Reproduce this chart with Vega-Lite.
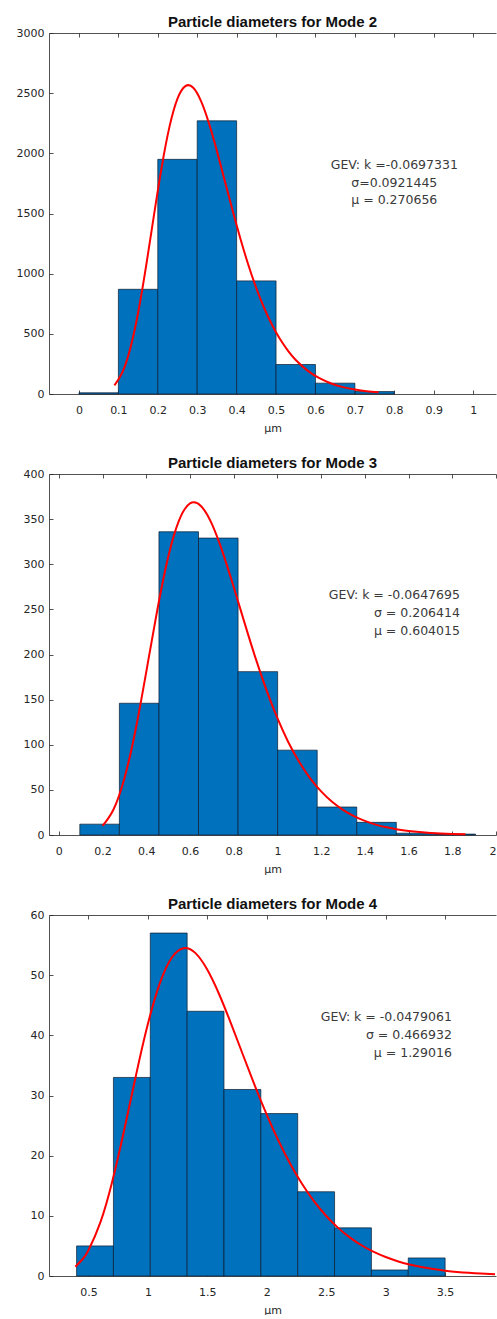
{
  "$schema": "https://vega.github.io/schema/vega-lite/v6.json",
  "padding": {"left": 16, "top": 15, "right": 0, "bottom": 0},
  "spacing": 80,
  "bounds": "flush",
  "config": {
    "view": {"stroke": null},
    "font": "Liberation Sans",
    "title": {"fontSize": 15, "font": "Liberation Sans", "fontWeight": "bold", "color": "#111111", "offset": -3},
    "axis": {"grid": false, "domainColor": "#262626", "domainWidth": 0.8, "tickColor": "#262626", "tickWidth": 0.8, "tickSize": -4, "labelColor": "#262626", "labelFont": "DejaVu Sans", "labelFontSize": 11, "labelOverlap": false, "titleFont": "DejaVu Sans", "titleFontSize": 11, "titleFontWeight": "normal", "titleColor": "#262626"},
    "axisBottom": {"labelPadding": 14, "titlePadding": 7},
    "axisLeft": {"labelPadding": 9}
  },
  "datasets": {
    "bars2": [
      {"x0": 0, "x1": 0.1, "count": 10}, {"x0": 0.1, "x1": 0.2, "count": 870}, {"x0": 0.2, "x1": 0.3, "count": 1950}, {"x0": 0.3, "x1": 0.4, "count": 2270},
      {"x0": 0.4, "x1": 0.5, "count": 940}, {"x0": 0.5, "x1": 0.6, "count": 245}, {"x0": 0.6, "x1": 0.7, "count": 90}, {"x0": 0.7, "x1": 0.8, "count": 20}
    ],
    "fit2": [
      {"x": 0.09, "y": 72}, {"x": 0.11, "y": 180}, {"x": 0.13, "y": 377}, {"x": 0.15, "y": 674}, {"x": 0.17, "y": 1056}, {"x": 0.19, "y": 1480},
      {"x": 0.21, "y": 1888}, {"x": 0.23, "y": 2226}, {"x": 0.25, "y": 2455}, {"x": 0.27, "y": 2559}, {"x": 0.29, "y": 2545}, {"x": 0.31, "y": 2432},
      {"x": 0.33, "y": 2248}, {"x": 0.35, "y": 2019}, {"x": 0.37, "y": 1771}, {"x": 0.39, "y": 1522}, {"x": 0.41, "y": 1286}, {"x": 0.43, "y": 1070},
      {"x": 0.45, "y": 879}, {"x": 0.47, "y": 714}, {"x": 0.49, "y": 574}, {"x": 0.51, "y": 457}, {"x": 0.53, "y": 361}, {"x": 0.55, "y": 283},
      {"x": 0.58, "y": 194}, {"x": 0.61, "y": 131}, {"x": 0.64, "y": 87}, {"x": 0.67, "y": 57}, {"x": 0.70, "y": 37}, {"x": 0.73, "y": 23}, {"x": 0.76, "y": 14.5}
    ],
    "ann2": [
      {"x": 0.80, "y": 1903, "label": "GEV: k =-0.0697331"},
      {"x": 0.80, "y": 1753, "label": "σ=0.0921445"},
      {"x": 0.80, "y": 1612, "label": "μ = 0.270656"}
    ],
    "bars3": [
      {"x0": 0.096, "x1": 0.277, "count": 12}, {"x0": 0.277, "x1": 0.458, "count": 146}, {"x0": 0.458, "x1": 0.639, "count": 336}, {"x0": 0.639, "x1": 0.82, "count": 329},
      {"x0": 0.82, "x1": 1.001, "count": 181}, {"x0": 1.001, "x1": 1.182, "count": 94}, {"x0": 1.182, "x1": 1.363, "count": 31}, {"x0": 1.363, "x1": 1.544, "count": 14},
      {"x0": 1.544, "x1": 1.725, "count": 2}, {"x0": 1.725, "x1": 1.906, "count": 1}
    ],
    "fit3": [
      {"x": 0.20, "y": 10.1}, {"x": 0.25, "y": 28.3}, {"x": 0.30, "y": 62.9}, {"x": 0.35, "y": 115.3}, {"x": 0.40, "y": 180.8}, {"x": 0.45, "y": 248.8},
      {"x": 0.50, "y": 307.8}, {"x": 0.55, "y": 348.7}, {"x": 0.60, "y": 367.4}, {"x": 0.65, "y": 364.6}, {"x": 0.70, "y": 344.7}, {"x": 0.75, "y": 312.9},
      {"x": 0.80, "y": 274.8}, {"x": 0.85, "y": 234.8}, {"x": 0.90, "y": 196.0}, {"x": 0.95, "y": 160.6}, {"x": 1.00, "y": 129.4}, {"x": 1.05, "y": 102.8},
      {"x": 1.10, "y": 80.8}, {"x": 1.15, "y": 62.8}, {"x": 1.20, "y": 48.3}, {"x": 1.25, "y": 36.8}, {"x": 1.30, "y": 27.9}, {"x": 1.35, "y": 20.9},
      {"x": 1.40, "y": 15.6}, {"x": 1.45, "y": 11.5}, {"x": 1.50, "y": 8.5}, {"x": 1.55, "y": 6.2}, {"x": 1.60, "y": 4.5}, {"x": 1.70, "y": 2.3},
      {"x": 1.80, "y": 1.1}, {"x": 1.86, "y": 0.7}
    ],
    "ann3": [
      {"x": 1.835, "y": 266, "label": "GEV: k = -0.0647695"},
      {"x": 1.835, "y": 246, "label": "σ =  0.206414"},
      {"x": 1.835, "y": 226.5, "label": "μ =   0.604015"}
    ],
    "bars4": [
      {"x0": 0.40, "x1": 0.71, "count": 5}, {"x0": 0.71, "x1": 1.02, "count": 33}, {"x0": 1.02, "x1": 1.33, "count": 57}, {"x0": 1.33, "x1": 1.64, "count": 44},
      {"x0": 1.64, "x1": 1.95, "count": 31}, {"x0": 1.95, "x1": 2.26, "count": 27}, {"x0": 2.26, "x1": 2.57, "count": 14}, {"x0": 2.57, "x1": 2.88, "count": 8},
      {"x0": 2.88, "x1": 3.19, "count": 1}, {"x0": 3.19, "x1": 3.50, "count": 3}
    ],
    "fit4": [
      {"x": 0.39, "y": 1.54}, {"x": 0.45, "y": 2.78}, {"x": 0.50, "y": 4.29}, {"x": 0.60, "y": 8.90}, {"x": 0.70, "y": 15.71}, {"x": 0.80, "y": 24.23},
      {"x": 0.90, "y": 33.39}, {"x": 1.00, "y": 41.91}, {"x": 1.10, "y": 48.64}, {"x": 1.20, "y": 52.90}, {"x": 1.30, "y": 54.49}, {"x": 1.40, "y": 53.66},
      {"x": 1.50, "y": 50.89}, {"x": 1.60, "y": 46.79}, {"x": 1.70, "y": 41.91}, {"x": 1.80, "y": 36.73}, {"x": 1.90, "y": 31.61}, {"x": 2.00, "y": 26.79},
      {"x": 2.10, "y": 22.41}, {"x": 2.20, "y": 18.54}, {"x": 2.30, "y": 15.20}, {"x": 2.40, "y": 12.36}, {"x": 2.50, "y": 9.98}, {"x": 2.60, "y": 8.00},
      {"x": 2.70, "y": 6.38}, {"x": 2.80, "y": 5.07}, {"x": 2.90, "y": 4.00}, {"x": 3.00, "y": 3.15}, {"x": 3.10, "y": 2.46}, {"x": 3.20, "y": 1.92},
      {"x": 3.30, "y": 1.49}, {"x": 3.40, "y": 1.15}, {"x": 3.50, "y": 0.89}, {"x": 3.60, "y": 0.68}, {"x": 3.70, "y": 0.52}, {"x": 3.80, "y": 0.40},
      {"x": 3.92, "y": 0.29}
    ],
    "ann4": [
      {"x": 3.557, "y": 43.05, "label": "GEV:  k = -0.0479061"},
      {"x": 3.557, "y": 40, "label": "σ =  0.466932"},
      {"x": 3.557, "y": 37, "label": "μ =   1.29016"}
    ]
  },
  "vconcat": [
    {
      "width": 447, "height": 361,
      "title": "Particle diameters for Mode 2",
      "layer": [
        {
          "data": {"name": "bars2"},
          "mark": {"type": "rect", "fill": "#0072BD", "stroke": "#0d1b2e", "strokeWidth": 0.7},
          "encoding": {
            "x": {"field": "x0", "type": "quantitative", "scale": {"domain": [-0.076, 1.058], "nice": false, "zero": false},
                  "axis": {"values": [0, 0.1, 0.2, 0.3, 0.4, 0.5, 0.6, 0.7, 0.8, 0.9, 1], "format": "~g", "title": "μm"}},
            "x2": {"field": "x1"},
            "y": {"field": "count", "type": "quantitative", "scale": {"domain": [0, 3000], "nice": false},
                  "axis": {"values": [0, 500, 1000, 1500, 2000, 2500, 3000], "format": "d", "title": null}},
            "y2": {"datum": 0}
          }
        },
        {
          "data": {"name": "fit2"},
          "mark": {"type": "line", "color": "#FF0000", "strokeWidth": 2, "interpolate": "natural"},
          "encoding": {
            "x": {"field": "x", "type": "quantitative", "axis": {"orient": "top", "values": [0, 0.1, 0.2, 0.3, 0.4, 0.5, 0.6, 0.7, 0.8, 0.9, 1], "labels": false, "title": null}},
            "y": {"field": "y", "type": "quantitative", "axis": null}
          }
        },
        {
          "data": {"name": "ann2"},
          "mark": {"type": "text", "align": "center", "baseline": "middle", "font": "DejaVu Sans", "fontSize": 12.5, "color": "#3a3a3a"},
          "encoding": {
            "x": {"field": "x", "type": "quantitative", "axis": null},
            "y": {"field": "y", "type": "quantitative", "axis": null},
            "text": {"field": "label"}
          }
        }
      ],
      "resolve": {"axis": {"x": "independent", "y": "independent"}}
    },
    {
      "width": 447, "height": 361,
      "title": "Particle diameters for Mode 3",
      "layer": [
        {
          "data": {"name": "bars3"},
          "mark": {"type": "rect", "fill": "#0072BD", "stroke": "#0d1b2e", "strokeWidth": 0.7},
          "encoding": {
            "x": {"field": "x0", "type": "quantitative", "scale": {"domain": [-0.045, 2.0], "nice": false, "zero": false},
                  "axis": {"values": [0, 0.2, 0.4, 0.6, 0.8, 1, 1.2, 1.4, 1.6, 1.8, 2], "format": "~g", "title": "μm"}},
            "x2": {"field": "x1"},
            "y": {"field": "count", "type": "quantitative", "scale": {"domain": [0, 400], "nice": false},
                  "axis": {"values": [0, 50, 100, 150, 200, 250, 300, 350, 400], "format": "d", "title": null}},
            "y2": {"datum": 0}
          }
        },
        {
          "data": {"name": "fit3"},
          "mark": {"type": "line", "color": "#FF0000", "strokeWidth": 2, "interpolate": "natural"},
          "encoding": {
            "x": {"field": "x", "type": "quantitative", "axis": {"orient": "top", "values": [0, 0.2, 0.4, 0.6, 0.8, 1, 1.2, 1.4, 1.6, 1.8, 2], "labels": false, "title": null}},
            "y": {"field": "y", "type": "quantitative", "axis": null}
          }
        },
        {
          "data": {"name": "ann3"},
          "mark": {"type": "text", "align": "right", "baseline": "middle", "font": "DejaVu Sans", "fontSize": 12.5, "color": "#3a3a3a"},
          "encoding": {
            "x": {"field": "x", "type": "quantitative", "axis": null},
            "y": {"field": "y", "type": "quantitative", "axis": null},
            "text": {"field": "label"}
          }
        }
      ],
      "resolve": {"axis": {"x": "independent", "y": "independent"}}
    },
    {
      "width": 447, "height": 361,
      "title": "Particle diameters for Mode 4",
      "layer": [
        {
          "data": {"name": "bars4"},
          "mark": {"type": "rect", "fill": "#0072BD", "stroke": "#0d1b2e", "strokeWidth": 0.7},
          "encoding": {
            "x": {"field": "x0", "type": "quantitative", "scale": {"domain": [0.168, 3.928], "nice": false, "zero": false},
                  "axis": {"values": [0.5, 1, 1.5, 2, 2.5, 3, 3.5], "format": "~g", "title": "μm"}},
            "x2": {"field": "x1"},
            "y": {"field": "count", "type": "quantitative", "scale": {"domain": [0, 60], "nice": false},
                  "axis": {"values": [0, 10, 20, 30, 40, 50, 60], "format": "d", "title": null}},
            "y2": {"datum": 0}
          }
        },
        {
          "data": {"name": "fit4"},
          "mark": {"type": "line", "color": "#FF0000", "strokeWidth": 2, "interpolate": "natural"},
          "encoding": {
            "x": {"field": "x", "type": "quantitative", "axis": {"orient": "top", "values": [0.5, 1, 1.5, 2, 2.5, 3, 3.5], "labels": false, "title": null}},
            "y": {"field": "y", "type": "quantitative", "axis": null}
          }
        },
        {
          "data": {"name": "ann4"},
          "mark": {"type": "text", "align": "right", "baseline": "middle", "font": "DejaVu Sans", "fontSize": 12.5, "color": "#3a3a3a"},
          "encoding": {
            "x": {"field": "x", "type": "quantitative", "axis": null},
            "y": {"field": "y", "type": "quantitative", "axis": null},
            "text": {"field": "label"}
          }
        }
      ],
      "resolve": {"axis": {"x": "independent", "y": "independent"}}
    }
  ]
}
